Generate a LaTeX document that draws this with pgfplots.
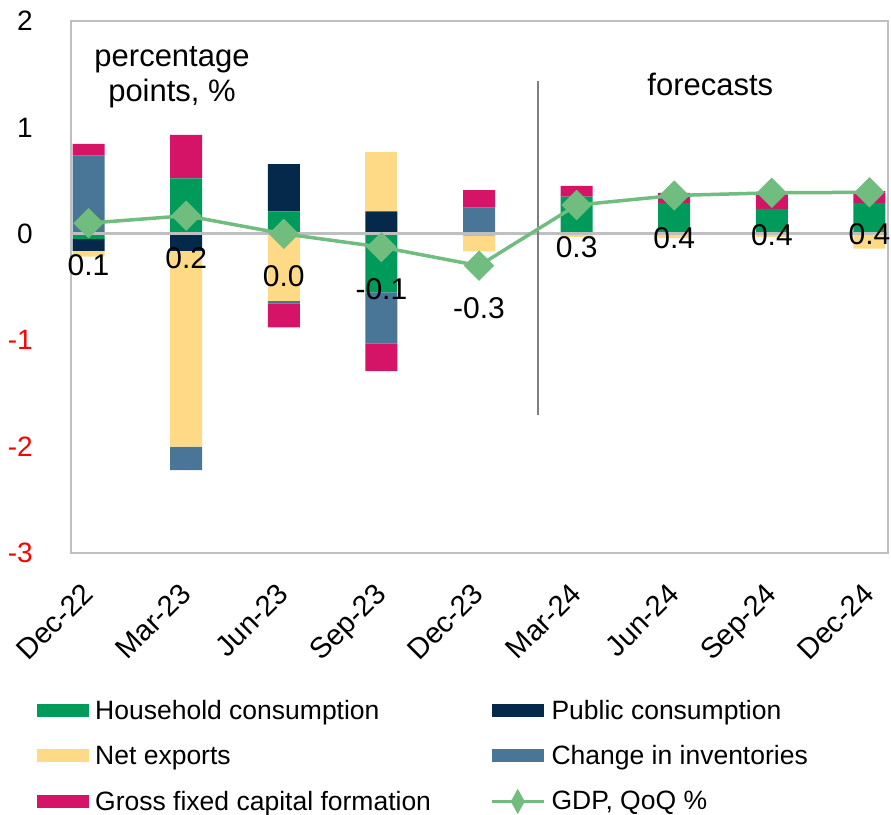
\documentclass[border=0pt]{standalone}
\usepackage{fontspec}
\setmainfont{Liberation Sans}
\usepackage{pgfplots}
\pgfplotsset{compat=1.18}
\usepackage{pgfplotstable}

\definecolor{hh}{HTML}{009A5B}
\definecolor{pub}{HTML}{05294A}
\definecolor{nx}{HTML}{FFDA86}
\definecolor{inv}{HTML}{497596}
\definecolor{gf}{HTML}{D51367}
\definecolor{gdp}{HTML}{71BC7F}
\definecolor{axgray}{HTML}{BFBFBF}
\definecolor{sepgray}{HTML}{808080}

% positive and negative contributions, stacked in two overlaid axes
\pgfplotstableread{
x hh    pub   nx    inv   gf
0 0     0     0     0.735 0.11
1 0.52  0     0     0     0.41
2 0.21  0.445 0     0     0
3 0     0.21  0.56  0     0
4 0     0     0     0.245 0.165
5 0.35  0     0     0     0.10
6 0.29  0     0     0     0.095
7 0.235 0     0     0     0.135
8 0.29  0     0     0     0.11
}\posdata

\pgfplotstableread{
x hh     pub   nx    inv    gf
0 -0.05  -0.11 -0.055 0     0
1 0      -0.16 -1.84 -0.22  0
2 0      0     -0.63 -0.025 -0.225
3 -0.55  0     0     -0.48  -0.26
4 -0.015 0     -0.15 0      0
5 0      0     -0.03 0      0
6 0      0     -0.04 0      0
7 0      0     -0.03 0      0
8 0      0     -0.14 0      0
}\negdata

\pgfplotsset{
  frame/.style={at={(71pt,261pt)}, anchor=south west,
    scale only axis, width=817pt, height=532pt,
    xmin=-0.18, xmax=8.19, ymin=-3, ymax=2},
  sw/.style={fill=#1, draw=none,
    legend image code/.code={\fill[##1] (0pt,-6.5pt) rectangle (52pt,6.5pt);}},
  gdpline/.style={color=gdp, line width=3.5pt,
    legend image code/.code={
      \draw[color=gdp, line width=3.5pt] (0pt,0pt) -- (52pt,0pt);
      \fill[gdp] (26pt,9pt) -- (31pt,0pt) -- (26pt,-9pt) -- (21pt,0pt) -- cycle;}},
}

\begin{document}
\begin{tikzpicture}
\path[use as bounding box] (0,0) rectangle (891pt,814pt);

% positive parts, ticks and legend
\begin{axis}[frame,
  axis line style={draw=axgray, line width=2.5pt},
  ybar stacked, bar width=32pt,
  major tick length=0pt,
  ytick={-3,...,2},
  yticklabels={\textcolor{red}{-3},\textcolor{red}{-2},\textcolor{red}{-1},0,1,2},
  yticklabel style={anchor=east, inner sep=0pt, xshift=-38pt, font=\fontsize{28}{32}\selectfont},
  xtick={0,...,8},
  xticklabels={Dec-22,Mar-23,Jun-23,Sep-23,Dec-23,Mar-24,Jun-24,Sep-24,Dec-24},
  xticklabel style={anchor=north east, inner sep=0pt, xshift=-8pt, yshift=-28pt, rotate=45,
    font=\fontsize{29}{33}\selectfont},
  legend columns=2,
  legend cell align=left,
  legend style={at={(-0.0416,-0.2765)}, anchor=north west, draw=none, fill=none,
    inner sep=0pt, font=\fontsize{26.5}{30}\selectfont,
    nodes={inner sep=0pt}, row sep=24.5pt, column sep=6pt,
    /tikz/every even column/.append style={column sep=59pt}},
]
\addplot[sw=hh]  table[x=x,y=hh]{\posdata};  \addlegendentry{Household consumption}
\addplot[sw=pub] table[x=x,y=pub]{\posdata}; \addlegendentry{Public consumption}
\addplot[sw=nx]  table[x=x,y=nx]{\posdata};  \addlegendentry{Net exports}
\addplot[sw=inv] table[x=x,y=inv]{\posdata}; \addlegendentry{Change in inventories}
\addplot[sw=gf]  table[x=x,y=gf]{\posdata};  \addlegendentry{Gross fixed capital formation}
\addlegendimage{gdpline}
\addlegendentry{GDP, QoQ \%}
\end{axis}

% negative parts
\begin{axis}[frame, hide axis, ybar stacked, bar width=32pt]
\addplot[sw=hh]  table[x=x,y=hh]{\negdata};
\addplot[sw=pub] table[x=x,y=pub]{\negdata};
\addplot[sw=nx]  table[x=x,y=nx]{\negdata};
\addplot[sw=inv] table[x=x,y=inv]{\negdata};
\addplot[sw=gf]  table[x=x,y=gf]{\negdata};
\end{axis}

% zero line, separator, GDP line and notes
\begin{axis}[frame, hide axis]
\draw[color=axgray, line width=3pt] (axis cs:-0.18,0) -- (axis cs:8.19,0);
\draw[color=sepgray, line width=2pt] (axis cs:4.6,1.44) -- (axis cs:4.6,-1.70);

\addplot[gdpline, mark=square*, mark size=9pt, mark options={rotate=45, solid, fill=gdp},
  nodes near coords, point meta=explicit symbolic,
  nodes near coords align={below},
  every node near coord/.append style={inner sep=0pt, yshift=-30pt, text=black,
    font=\fontsize{30}{34}\selectfont}]
coordinates {
  (0,0.10) [0.1]
  (1,0.17) [0.2]
  (2,0.00) [0.0]
  (3,-0.125) [-0.1]
  (4,-0.30) [-0.3]
  (5,0.27) [0.3]
  (6,0.36) [0.4]
  (7,0.385) [0.4]
  (8,0.39) [0.4]
};

\node[align=center, font=\fontsize{31}{35}\selectfont] at (axis cs:0.855,1.47) {percentage\\points, \%};
\node[font=\fontsize{31}{35}\selectfont] at (axis cs:6.37,1.40) {forecasts};
\end{axis}
\end{tikzpicture}
\end{document}
